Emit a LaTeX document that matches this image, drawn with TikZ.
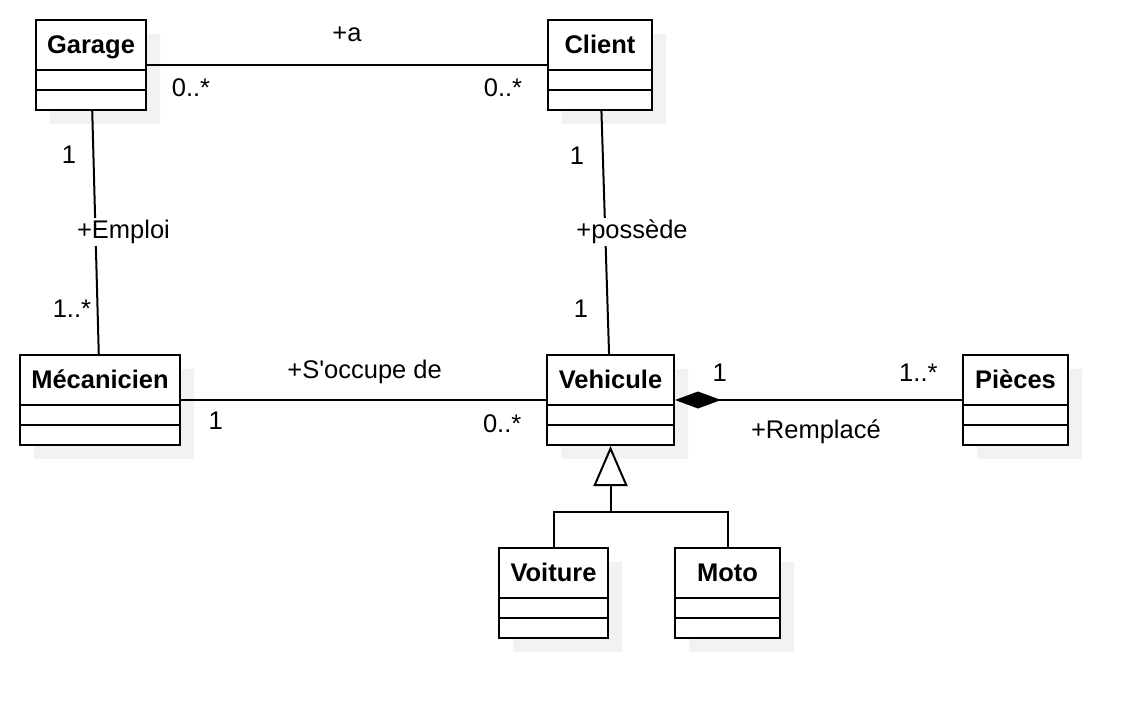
\documentclass[tikz,border=0pt]{standalone}
\usepackage{fontspec}
\setmainfont{Liberation Sans}
\usetikzlibrary{shapes.multipart, shadows, arrows.meta}

\newcommand\umlname[1]{\rule[-7.8pt]{0pt}{24pt}#1}

\begin{document}
\begin{tikzpicture}[x=0.5pt, y=-0.5pt, line width=1pt,
  class node/.style={draw, fill=white, rectangle split, rectangle split parts=3,
    rectangle split ignore empty parts=false,
    rectangle split empty part height=9pt, rectangle split empty part depth=0pt,
    rectangle split empty part width=0pt,
    inner xsep=0pt, inner ysep=0pt, minimum width=#1,
    font=\fontsize{12.75}{15}\selectfont\bfseries,
    drop shadow={shadow xshift=7pt, shadow yshift=-7pt, fill=black!5, opacity=1}},
  label node/.style={fill=white, inner sep=1pt, font=\fontsize{12.75}{15}\selectfont}]
\useasboundingbox (0,0) rectangle (1148,718);

\node[class node=55pt]   (garage)     at (91,65)     {\umlname{Garage} \nodepart{second} \nodepart{third}};
\node[class node=52pt]   (client)     at (600,65)    {\umlname{Client} \nodepart{second} \nodepart{third}};
\node[class node=80pt]   (mecanicien) at (100,400)   {\umlname{Mécanicien} \nodepart{second} \nodepart{third}};
\node[class node=63.5pt] (vehicule)   at (610.5,400) {\umlname{Vehicule} \nodepart{second} \nodepart{third}};
\node[class node=52.5pt] (pieces)     at (1015.5,400) {\umlname{Pièces} \nodepart{second} \nodepart{third}};
\node[class node=54.5pt] (voiture)    at (553.5,593) {\umlname{Voiture} \nodepart{second} \nodepart{third}};
\node[class node=52.5pt] (moto)       at (727.5,593) {\umlname{Moto} \nodepart{second} \nodepart{third}};
\coordinate (gen) at (610.5,512);

% associations
\draw (garage) -- node[label node, pos=0.5, yshift=15.5pt] {+a}
  node[label node, pos=0.11, yshift=-11.5pt] {0..*}
  node[label node, pos=0.89, yshift=-11.5pt] {0..*} (client);
\draw (garage) -- node[label node, pos=0.18, xshift=-12.2pt] {1}
  node[label node, pos=0.497, xshift=14pt] {+Emploi}
  node[label node, pos=0.812, xshift=-12.8pt] {1..*} (mecanicien);
\draw (client) -- node[label node, pos=0.184, xshift=-12.9pt] {1}
  node[label node, pos=0.497, xshift=13.4pt] {+possède}
  node[label node, pos=0.812, xshift=-13.3pt] {1} (vehicule);
\draw (mecanicien) -- node[label node, pos=0.503, yshift=14.2pt] {+S\textquotesingle occupe de}
  node[label node, pos=0.095, yshift=-10.5pt] {1}
  node[label node, pos=0.88, yshift=-12pt] {0..*} (vehicule);

% composition
\draw[{Diamond[length=23pt, width=8.5pt]}-] (vehicule) -- node[label node, pos=0.156, yshift=13.5pt] {1}
  node[label node, pos=0.848, yshift=13.5pt] {1..*}
  node[label node, pos=0.491, yshift=-15.9pt] {+Remplacé} (pieces);

% generalisation
\draw[-{Triangle[open, length=20pt, width=17pt]}] (gen) -- (vehicule.south);
\draw (voiture.north) |- (gen) -| (moto.north);
\end{tikzpicture}
\end{document}
